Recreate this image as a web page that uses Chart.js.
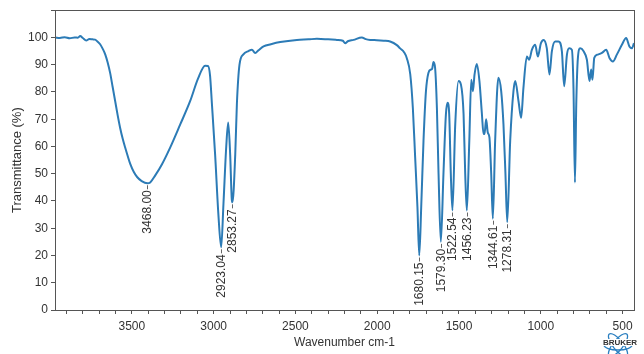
<!DOCTYPE html>
<html>
<head>
<meta charset="utf-8">
<script src="https://cdn.jsdelivr.net/npm/chart.js@4"></script>
<style>
  body { margin: 0; background: #fff; }
  canvas { display: block; }
</style>
</head>
<body>
<canvas id="spectrum" width="644" height="354"></canvas>
<script>
// spectrum (wavenumber cm-1 / transmittance %)
const wavenumbers = [
  3969, 3940, 3910, 3880, 3850, 3830, 3816, 3800, 3779, 3760, 3740, 3725, 3712, 3694,
  3678, 3663, 3648, 3633, 3618, 3602, 3587, 3572, 3556, 3541, 3525, 3510, 3488, 3468,
  3440, 3405, 3388, 3358, 3315, 3266, 3205, 3144, 3095, 3052, 3035, 3022, 3011, 2991,
  2971, 2954, 2940, 2923, 2911, 2899, 2889, 2885, 2868, 2858, 2842, 2818, 2787, 2766,
  2746, 2726, 2695, 2650, 2593, 2491, 2420, 2369, 2300, 2247, 2210, 2196, 2180, 2145,
  2094, 2070, 2043, 2002, 1960, 1921, 1880, 1860, 1835, 1819, 1798, 1782, 1768, 1754,
  1743, 1731, 1717, 1702, 1687, 1672, 1664, 1656, 1646, 1635, 1625, 1611, 1595, 1580,
  1570, 1560, 1550, 1540, 1523, 1503, 1488, 1472, 1462, 1452, 1437, 1425, 1415, 1405,
  1391, 1375, 1360, 1350, 1344, 1334, 1324, 1314, 1303, 1293, 1279, 1259, 1242, 1228,
  1216, 1205, 1187, 1167, 1156, 1136, 1120, 1106, 1085, 1071, 1054, 1034, 1018, 999,
  983, 963, 947, 932, 912, 892, 871, 857, 840, 826, 810, 800, 791, 783,
  773, 759, 739, 718, 702, 692, 684, 673, 653, 626, 600, 580, 559, 535,
  504, 478, 458, 443, 430
];
const transmittance = [
  100.0, 99.8, 100.1, 99.7, 100.0, 99.9, 100.5, 99.8, 98.9, 99.4, 99.3, 99.2, 98.6, 97.5,
  95.8, 93.8, 90.8, 87.0, 82.0, 76.6, 71.5, 66.9, 62.8, 59.6, 56.4, 53.6, 50.6, 48.8,
  47.3, 46.5, 46.8, 49.3, 53.6, 59.6, 68.0, 76.6, 85.0, 89.6, 89.5, 86.0, 76.0, 57.0,
  35.0, 23.0, 39.0, 60.0, 68.8, 57.0, 40.5, 39.5, 57.0, 75.5, 90.0, 93.8, 95.0, 95.5,
  94.3, 95.3, 96.7, 97.5, 98.3, 99.1, 99.3, 99.5, 99.3, 99.1, 98.8, 97.9, 98.6, 99.1,
  100.0, 99.4, 99.1, 99.0, 98.8, 98.5, 97.2, 96.0, 94.5, 92.4, 86.5, 74.0, 56.0, 37.7,
  20.0, 37.7, 62.0, 80.3, 87.0, 88.2, 88.5, 91.0, 88.8, 74.0, 50.0, 25.0, 50.0, 71.8,
  76.0, 72.0, 50.0, 36.5, 68.0, 84.0, 82.7, 71.8, 50.0, 36.5, 62.0, 84.5, 80.3, 86.4,
  90.3, 84.0, 72.0, 64.6, 64.6, 70.0, 65.1, 63.3, 50.0, 33.5, 62.0, 85.2, 80.3, 68.0,
  50.0, 32.2, 62.0, 80.3, 84.0, 76.6, 70.5, 81.5, 93.0, 91.8, 95.5, 97.3, 93.0, 97.9,
  99.1, 96.0, 86.4, 95.0, 98.5, 98.5, 95.0, 82.1, 93.7, 96.0, 95.5, 81.5, 46.8, 75.5,
  92.5, 96.0, 95.0, 91.8, 84.0, 88.2, 84.5, 92.5, 93.7, 94.3, 95.5, 92.5, 91.2, 93.7,
  97.3, 99.8, 96.7, 96.0, 97.9
];

// labelled peaks
const peakWavenumbers = [3405, 2954, 2885, 1743, 1611, 1540, 1452, 1293, 1205];
const peakValues = [46.5, 23.0, 39.5, 20.0, 25.0, 36.5, 36.5, 33.5, 32.2];
const peakLabels = ['3468.00', '2923.04', '2853.27', '1680.15', '1579.30', '1522.54', '1456.23', '1344.61', '1278.31'];

const xRange = [430, 3970];
const yRange = [0, 110];

const points = wavenumbers.map((w, i) => ({ x: w, y: transmittance[i] }));

const textColor = '#333';
const axisColor = '#555';

const peakLabelPlugin = {
  id: 'peakLabels',
  afterDatasetsDraw(chart) {
    const { ctx, scales: { x, y } } = chart;
    ctx.save();
    ctx.fillStyle = textColor;
    ctx.strokeStyle = '#666';
    ctx.lineWidth = 1;
    ctx.font = '12px "Liberation Sans", Arial, sans-serif';
    ctx.textAlign = 'right';
    ctx.textBaseline = 'middle';
    peakWavenumbers.forEach((w, i) => {
      const px = Math.round(x.getPixelForValue(w)) + 0.5;
      const py = y.getPixelForValue(peakValues[i]);
      ctx.beginPath();
      ctx.moveTo(px, py + 2);
      ctx.lineTo(px, py + 6);
      ctx.stroke();
      ctx.save();
      ctx.translate(px, py + 7);
      ctx.rotate(-Math.PI / 2);
      ctx.fillText(peakLabels[i], 0, 0);
      ctx.restore();
    });
    ctx.restore();
  }
};

const frameAndLogo = {
  id: 'frameAndLogo',
  afterDraw(chart) {
    const { ctx, chartArea: a } = chart;
    ctx.save();
    ctx.strokeStyle = axisColor;
    ctx.lineWidth = 1;
    ctx.strokeRect(Math.round(a.left) + 0.5, Math.round(a.top) + 0.5,
      Math.round(a.right - a.left), Math.round(a.bottom - a.top));

    // small Bruker mark in the corner
    const cx = 618, cy = 345;
    ctx.strokeStyle = '#2a7fc0';
    ctx.lineWidth = 1.3;
    [0, 0.9, -0.9].forEach(r => {
      ctx.beginPath();
      ctx.ellipse(cx, cy, 14, 5, r, 0, Math.PI * 2);
      ctx.stroke();
    });
    ctx.fillStyle = '#fff';
    ctx.fillRect(cx - 16, cy - 6, 36, 7);
    ctx.fillStyle = '#333';
    ctx.font = 'bold 8px "Liberation Sans", Arial, sans-serif';
    ctx.textAlign = 'center';
    ctx.textBaseline = 'middle';
    ctx.fillText('BRUKER', cx + 2, cy - 2);
    ctx.restore();
  }
};

Chart.defaults.font.family = '"Liberation Sans", Arial, sans-serif';
Chart.defaults.color = textColor;

new Chart(document.getElementById('spectrum'), {
  type: 'line',
  data: {
    datasets: [{
      data: points,
      borderColor: '#2c7bb6',
      borderWidth: 2,
      pointRadius: 0,
      fill: false,
      cubicInterpolationMode: 'monotone'
    }]
  },
  options: {
    responsive: false,
    animation: false,
    layout: { padding: { left: 0, right: 10, top: 9, bottom: 0 } },
    plugins: { legend: { display: false }, tooltip: { enabled: false } },
    scales: {
      x: {
        type: 'linear',
        reverse: true,
        min: xRange[0],
        max: xRange[1],
        afterFit: s => { s.height = 44; },
        border: { color: axisColor },
        grid: { drawOnChartArea: false, tickLength: 4, color: axisColor },
        ticks: {
          stepSize: 100,
          includeBounds: false,
          autoSkip: false,
          maxRotation: 0,
          padding: 5,
          font: { size: 12 },
          callback: v => (v % 500 === 0 ? String(v) : '')
        },
        title: {
          display: true,
          text: 'Wavenumber cm-1',
          font: { size: 12 },
          padding: { top: 0, bottom: 4 }
        }
      },
      y: {
        min: yRange[0],
        max: yRange[1],
        afterFit: s => { s.width = 55; },
        border: { color: axisColor },
        grid: { drawOnChartArea: false, tickLength: 4, color: axisColor },
        ticks: {
          stepSize: 5,
          padding: 3,
          font: { size: 12 },
          callback: v => (v % 10 === 0 && v <= 100 ? String(v) : '')
        },
        title: {
          display: true,
          text: 'Transmittance (%)',
          font: { size: 13 },
          padding: { top: 10, bottom: 0 }
        }
      }
    }
  },
  plugins: [peakLabelPlugin, frameAndLogo]
});
</script>
</body>
</html>
